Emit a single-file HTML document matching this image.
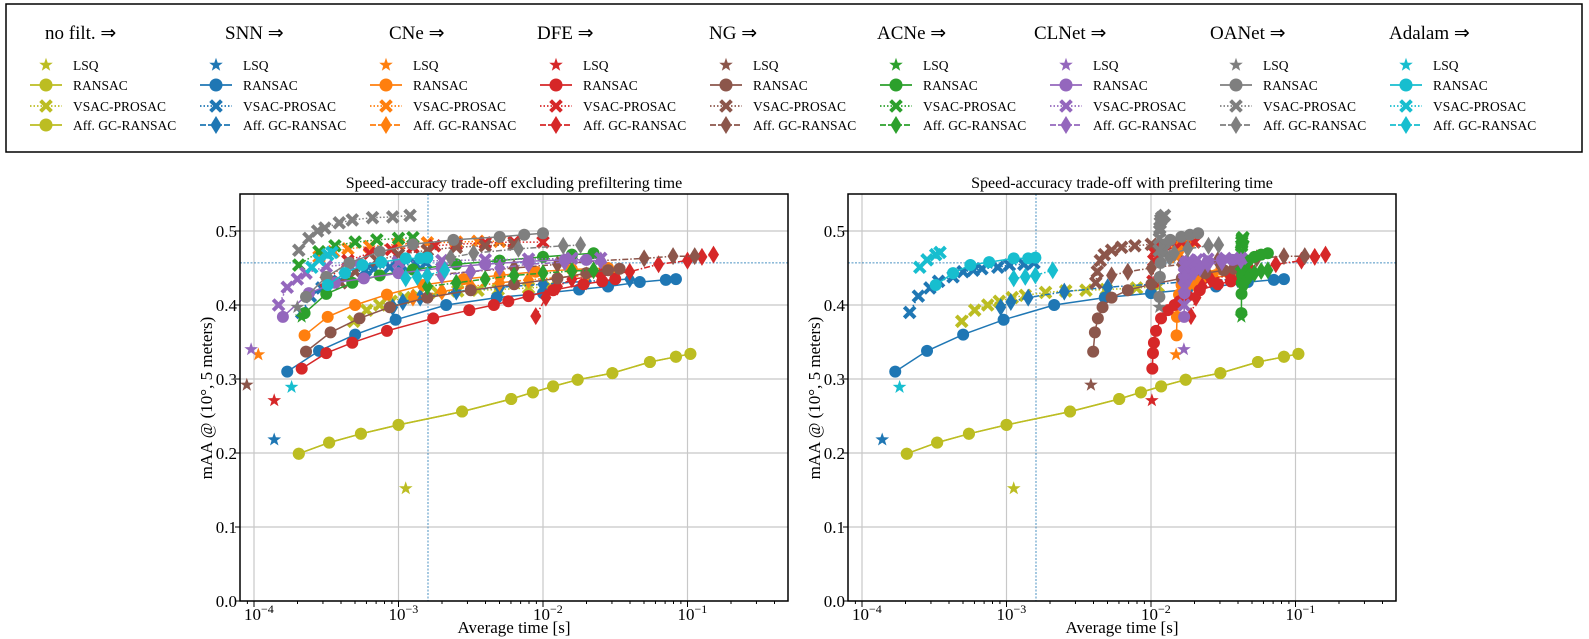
<!DOCTYPE html>
<html><head><meta charset="utf-8">
<style>
body{margin:0;background:#fff;}
svg{display:block;font-family:"Liberation Serif",serif;}
</style></head>
<body>
<svg id="fig" width="1589" height="639" viewBox="0 0 1589 639" xmlns="http://www.w3.org/2000/svg">
<defs>
<clipPath id="clipL"><rect x="240" y="194" width="548" height="407"/></clipPath>
<clipPath id="clipR"><rect x="848" y="194" width="547" height="407"/></clipPath>
</defs>
<rect x="6" y="4" width="1576" height="148" fill="#fff" stroke="#000" stroke-width="1.5"/>
<g id="legend"></g>
<g id="plotL"></g>
<g id="plotR"></g>
</svg>
<script>
const methods=['no filt.','SNN','CNe','DFE','NG','ACNe','CLNet','OANet','Adalam'];
const colors=['#bcbd22','#1f77b4','#ff7f0e','#d62728','#8c564b','#2ca02c','#9467bd','#7f7f7f','#17becf'];
const prefilter=[0,0,0.0148,0.0100,0.00375,0.042,0.0168,0.0112,0];
const lsqLogT=[-2.95,-3.86,-3.97,-3.86,-4.05,-3.67,-4.02,-3.70,-3.74];
const lsqVal=[0.152,0.218,0.333,0.271,0.292,0.384,0.340,0.397,0.289];
const ransacLogT=[
[-3.69,-3.48,-3.26,-3.00,-2.56,-2.22,-2.07,-1.93,-1.76,-1.52,-1.26,-1.08,-0.98],
[-3.77,-3.55,-3.30,-3.02,-2.67,-2.32,-2.0,-1.75,-1.55,-1.33,-1.15,-1.08],
[-3.65,-3.49,-3.30,-3.08,-2.83,-2.55,-2.3,-2.05,-1.8,-1.55],
[-3.67,-3.5,-3.32,-3.08,-2.76,-2.51,-2.34,-2.24,-2.1,-1.93,-1.72,-1.59,-1.5],
[-3.64,-3.47,-3.27,-3.06,-2.8,-2.5,-2.2,-1.9,-1.7,-1.55,-1.47],
[-3.65,-3.5,-3.32,-3.13,-2.9,-2.6,-2.3,-2.0,-1.8,-1.65],
[-3.8,-3.62,-3.44,-3.24,-3.0,-2.7,-2.4,-2.1,-1.85,-1.7],
[-3.64,-3.5,-3.34,-3.13,-2.9,-2.62,-2.3,-2.13,-2.0],
[-3.49,-3.37,-3.25,-3.12,-2.95,-2.85,-2.8]];
const ransacVal=[
[0.199,0.214,0.226,0.238,0.256,0.273,0.282,0.290,0.299,0.308,0.323,0.330,0.334],
[0.31,0.338,0.36,0.38,0.40,0.41,0.416,0.421,0.425,0.431,0.434,0.435],
[0.359,0.384,0.40,0.414,0.427,0.435,0.44,0.445,0.448,0.45],
[0.314,0.335,0.349,0.365,0.382,0.393,0.40,0.405,0.412,0.42,0.428,0.432,0.435],
[0.337,0.363,0.382,0.397,0.41,0.42,0.428,0.436,0.443,0.447,0.449],
[0.389,0.415,0.43,0.44,0.448,0.455,0.46,0.465,0.468,0.47],
[0.384,0.416,0.43,0.436,0.443,0.45,0.455,0.459,0.461,0.461],
[0.411,0.438,0.457,0.472,0.482,0.488,0.492,0.495,0.497],
[0.427,0.443,0.454,0.458,0.463,0.463,0.464]];
const vsacLogT=[
[-3.31,-3.22,-3.13,-3.05,-2.96,-2.87,-2.73,-2.59,-2.45,-2.31,-2.1,-1.95],
[-3.67,-3.61,-3.53,-3.47,-3.37,-3.30,-3.23,-3.17,-3.06,-2.98,-2.88,-2.81],
[-3.55,-3.45,-3.35,-3.2,-3.0,-2.8,-2.6,-2.45,-2.3],
[-3.5,-3.35,-3.2,-3.05,-2.9,-2.75,-2.6,-2.4,-2.2,-2.0],
[-3.4,-3.3,-3.15,-3.0,-2.8,-2.6,-2.4,-2.2],
[-3.69,-3.55,-3.44,-3.3,-3.15,-3.0,-2.9],
[-3.83,-3.77,-3.7,-3.64,-3.5,-3.3,-3.0,-2.7,-2.4,-2.1,-1.8,-1.6],
[-3.69,-3.62,-3.56,-3.51,-3.41,-3.32,-3.18,-3.04,-2.92],
[-3.6,-3.55,-3.49,-3.46]];
const vsacVal=[
[0.378,0.393,0.40,0.405,0.41,0.413,0.417,0.419,0.42,0.421,0.423,0.425],
[0.39,0.412,0.423,0.432,0.438,0.445,0.447,0.449,0.451,0.454,0.455,0.457],
[0.465,0.472,0.476,0.479,0.482,0.484,0.485,0.486,0.486],
[0.432,0.46,0.47,0.475,0.478,0.48,0.482,0.484,0.485,0.485],
[0.43,0.445,0.46,0.468,0.474,0.478,0.48,0.482],
[0.454,0.472,0.48,0.485,0.488,0.49,0.491],
[0.40,0.424,0.435,0.443,0.452,0.456,0.458,0.46,0.461,0.462,0.463,0.463],
[0.474,0.49,0.50,0.504,0.511,0.515,0.518,0.519,0.521],
[0.451,0.461,0.468,0.471]];
const affLogT=[
[-3.69,-3.48,-3.26,-3.00,-2.56,-2.22,-2.07,-1.93,-1.76,-1.52,-1.26,-1.08,-0.98],
[-3.04,-2.97,-2.85,-2.6,-2.3,-2.0,-1.7,-1.4],
[-2.9,-2.7,-2.5,-2.3,-2.1,-1.9,-1.7,-1.5],
[-2.05,-1.98,-1.9,-1.8,-1.6,-1.4,-1.2,-1.0,-0.9,-0.82],
[-2.8,-2.5,-2.2,-1.9,-1.6,-1.3,-1.1,-0.95],
[-2.8,-2.6,-2.4,-2.2,-2.0,-1.8,-1.65],
[-2.7,-2.5,-2.3,-2.1,-1.85,-1.6],
[-2.64,-2.48,-2.17,-1.86,-1.74],
[-2.95,-2.87,-2.8,-2.68]];
const affVal=[
[0.199,0.214,0.226,0.238,0.256,0.273,0.282,0.290,0.299,0.308,0.323,0.330,0.334],
[0.397,0.404,0.41,0.418,0.424,0.428,0.432,0.435],
[0.41,0.418,0.425,0.43,0.434,0.437,0.44,0.442],
[0.385,0.41,0.425,0.435,0.44,0.445,0.455,0.46,0.465,0.468],
[0.44,0.445,0.45,0.455,0.46,0.463,0.466,0.466],
[0.425,0.43,0.435,0.44,0.443,0.446,0.447],
[0.44,0.445,0.45,0.455,0.458,0.46],
[0.464,0.47,0.476,0.48,0.481],
[0.436,0.438,0.44,0.447]];
const yTicks=[0.0,0.1,0.2,0.3,0.4,0.5];
const xTickExp=[-4,-3,-2,-1];
const refTime=0.0016, refVal=0.457;

const NS='http://www.w3.org/2000/svg';
function mk(tag,attrs,parent){const e=document.createElementNS(NS,tag);for(const k in attrs)e.setAttribute(k,attrs[k]);parent.appendChild(e);return e;}
const DEC=144.5;
function yS(v){return 601-740*v;}
function markerPath(type,x,y){
  if(type==='star'){let p='';for(let i=0;i<10;i++){const r=i%2?2.9:7.2;const a=-Math.PI/2+i*Math.PI/5;p+=(i?'L':'M')+(x+r*Math.cos(a)).toFixed(1)+','+(y+r*Math.sin(a)).toFixed(1);}return p+'Z';}
  if(type==='x'){const a=6.8,b=2.8;return `M${x-a+b},${y-a}L${x},${y-b}L${x+a-b},${y-a}L${x+a},${y-a+b}L${x+b},${y}L${x+a},${y+a-b}L${x+a-b},${y+a}L${x},${y+b}L${x-a+b},${y+a}L${x-a},${y+a-b}L${x-b},${y}L${x-a},${y-a+b}Z`;}
  if(type==='diamond'){return `M${x},${y-9}L${x+5.5},${y}L${x},${y+9}L${x-5.5},${y}Z`;}
  return '';
}
function drawMarker(g,type,x,y,c){
  if(type==='circle') return mk('circle',{cx:x,cy:y,r:6,fill:c},g);
  return mk('path',{d:markerPath(type,x,y),fill:c},g);
}
function drawPlot(gid,x0,left,withPre,title,clip){
  const g=document.getElementById(gid);
  const xS=t=>x0+(Math.log10(t)+4)*DEC;
  const right=left+548;
  xTickExp.forEach(e=>{const x=xS(Math.pow(10,e));const l=mk('line',{x1:x,x2:x,y1:194,y2:601,stroke:'#c8c8c8','stroke-width':1.2},g);});
  yTicks.forEach(v=>{const y=yS(v);const l=mk('line',{x1:left,x2:right,y1:y,y2:y,stroke:'#c8c8c8','stroke-width':1.2},g);});
  const rx=xS(refTime);
  const rv=mk('line',{x1:rx,x2:rx,y1:194,y2:601,stroke:'#1f77b4','stroke-width':1,'stroke-dasharray':'2,1.5',opacity:0.8},g);
  
  const rh=mk('line',{x1:left,x2:right,y1:yS(refVal),y2:yS(refVal),stroke:'#1f77b4','stroke-width':1,'stroke-dasharray':'2,1.5',opacity:0.8},g);
  
  const data=mk('g',{'clip-path':`url(#${clip})`},g);
  
  const series=[[ransacLogT,ransacVal,'circle','none'],[affLogT,affVal,'diamond','6,2,1.5,2'],[vsacLogT,vsacVal,'x','1.5,2']];
  methods.forEach((m,i)=>{
    const c=colors[i];const pre=withPre?prefilter[i]:0;
    series.forEach(([T,V,mtype0,dash0])=>{
      let mtype=mtype0,dash=dash0;
      if(i===0&&mtype0==='diamond'){mtype='circle';dash='none';}
      const pts=T[i].map((lt,j)=>[xS(Math.pow(10,lt)+pre),yS(V[i][j])]);
      const sg=mk('g',{},data);
      
      
      const attrs={points:pts.map(p=>p[0].toFixed(1)+','+p[1].toFixed(1)).join(' '),fill:'none',stroke:c,'stroke-width':1.5};
      if(dash!=='none')attrs['stroke-dasharray']=dash;
      mk('polyline',attrs,sg);
      pts.forEach(p=>{const mm=drawMarker(sg,mtype,p[0],p[1],c);});
    });
    const s=drawMarker(data,'star',xS(Math.pow(10,lsqLogT[i])+pre),yS(lsqVal[i]),c);
    
  });
  const fr=mk('rect',{x:left,y:194,width:548,height:407,fill:'none',stroke:'#000','stroke-width':1.5},g);
  
  for(let e=-5;e<0;e++)for(let k=1;k<10;k++){const x=xS(k*Math.pow(10,e));if(x<left||x>right)continue;mk('line',{x1:x,x2:x,y1:601,y2:k===1?607:604,stroke:'#000','stroke-width':1},g);}
  yTicks.forEach(v=>{const y=yS(v);mk('line',{x1:left-5,x2:left,y1:y,y2:y,stroke:'#000','stroke-width':1},g);
    const t=mk('text',{x:left-3,y:y+6,'text-anchor':'end','font-size':17},g);t.textContent=v.toFixed(1);
    });
  xTickExp.forEach(e=>{const x=xS(Math.pow(10,e));const t=mk('text',{x:x-10,y:620,'font-size':17},g);
    
    t.appendChild(document.createTextNode('10'));const s=mk('tspan',{dy:-7,'font-size':12},t);s.textContent='\u2212'+(-e);});
  const tt=mk('text',{x:left+274,y:188,'text-anchor':'middle','font-size':16},g);tt.textContent=title;
  
  const xl=mk('text',{x:left+274,y:633,'text-anchor':'middle','font-size':17},g);xl.textContent='Average time [s]';
  
  const yl=mk('text',{x:0,y:0,'text-anchor':'middle','font-size':17,transform:`translate(${left-28},398) rotate(-90)`},g);yl.textContent='mAA @ (10\u00b0, 5 meters)';
  
}
drawPlot('plotL',254,240,false,'Speed-accuracy trade-off excluding prefiltering time','clipL');
drawPlot('plotR',862,848,true,'Speed-accuracy trade-off with prefiltering time','clipR');

const lg=document.getElementById('legend');
const headerOff=[-1,9,3,-19,-17,-19,-32,-26,-17];
const rowY=[65,85,106,125];
const rowLbl=['LSQ','RANSAC','VSAC-PROSAC','Aff. GC-RANSAC'];
const rowType=['star','circle','x','diamond'];
const rowDash=[null,'none','1.5,2','6,2'];
methods.forEach((m,i)=>{
  const sx=46+170*i,c=colors[i];
  const h=mk('text',{x:sx+headerOff[i],y:39,'font-size':19},lg);h.textContent=m+' \u21d2';
  
  rowLbl.forEach((l,r)=>{
    const y=rowY[r];
    let type=rowType[r],dash=rowDash[r];
    if(i===0&&r===3){type='circle';dash='none';}
    const eg=mk('g',{},lg);
    
    if(dash){const a={x1:sx-16,x2:sx+16,y1:y,y2:y,stroke:c,'stroke-width':1.8};if(dash!=='none')a['stroke-dasharray']=dash;mk('line',a,eg);}
    if(type==='circle')mk('circle',{cx:sx,cy:y,r:6.5,fill:c},eg);else drawMarker(eg,type,sx,y,c);
    const t=mk('text',{x:sx+27,y:y+5,'font-size':13.5},eg);t.textContent=l;
  });
});
</script>
</body></html>
